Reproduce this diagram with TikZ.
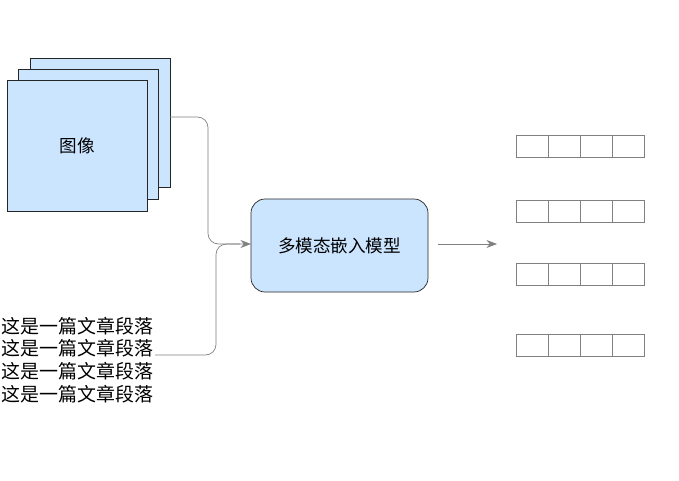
\documentclass[tikz,border=0pt]{standalone}
\usepackage{fontspec}
\newfontfamily\cjk{Noto Sans CJK SC}
\usetikzlibrary{arrows.meta}
\definecolor{boxblue}{HTML}{CCE5FF}
\definecolor{linegray}{HTML}{808080}
\begin{document}
\begin{tikzpicture}[x=0.02cm,y=-0.02cm,
    every node/.style={font=\cjk\fontsize{10}{12}\selectfont},
    page/.style={draw=black!85, fill=boxblue},
    cell/.style={draw=linegray, minimum width=0.64cm, minimum height=0.44cm, inner sep=0pt},
    conn/.style={draw=linegray, rounded corners=6pt}]
    \useasboundingbox (0,0) rectangle (679,480);
    % image stack
    \draw[page] (30,58) rectangle (170,187);
    \draw[page] (18,69) rectangle (158,199);
    \draw[page] (7,80) rectangle (147,211);
    \node (img) at (77,146) {图像};
    \coordinate (imgout) at (170,117);
    % text lines
    \node[anchor=west, align=left, inner sep=0pt, font=\cjk\fontsize{10.8}{12.9}\selectfont] (txt) at (1,360)
        {这是一篇文章段落\\这是一篇文章段落\\这是一篇文章段落\\这是一篇文章段落};
    \coordinate (txtout) at (155,355);
    % model
    \draw[page, rounded corners=8pt] (251,199) rectangle (428,292);
    \node (model) at (339.5,245.5) {多模态嵌入模型};
    \coordinate (modelin) at (251,244);
    \draw[conn, -{Stealth[length=6pt]}] (imgout) -- (208,117) -- (208,244) -- (modelin);
    \draw[conn] (txtout) -- (216,355) -- (216,244) -- (240,244);
    % output vectors
    \coordinate (outstart) at (438,244);
    \coordinate (outend) at (497,244);
    \draw[linegray, -{Stealth[length=6pt]}] (outstart) -- (outend);
    \foreach \y in {146.5,211,274.5,345}
      \foreach \i in {0,...,3}
        \node[cell] at (532+32*\i,\y) {};
\end{tikzpicture}
\end{document}
